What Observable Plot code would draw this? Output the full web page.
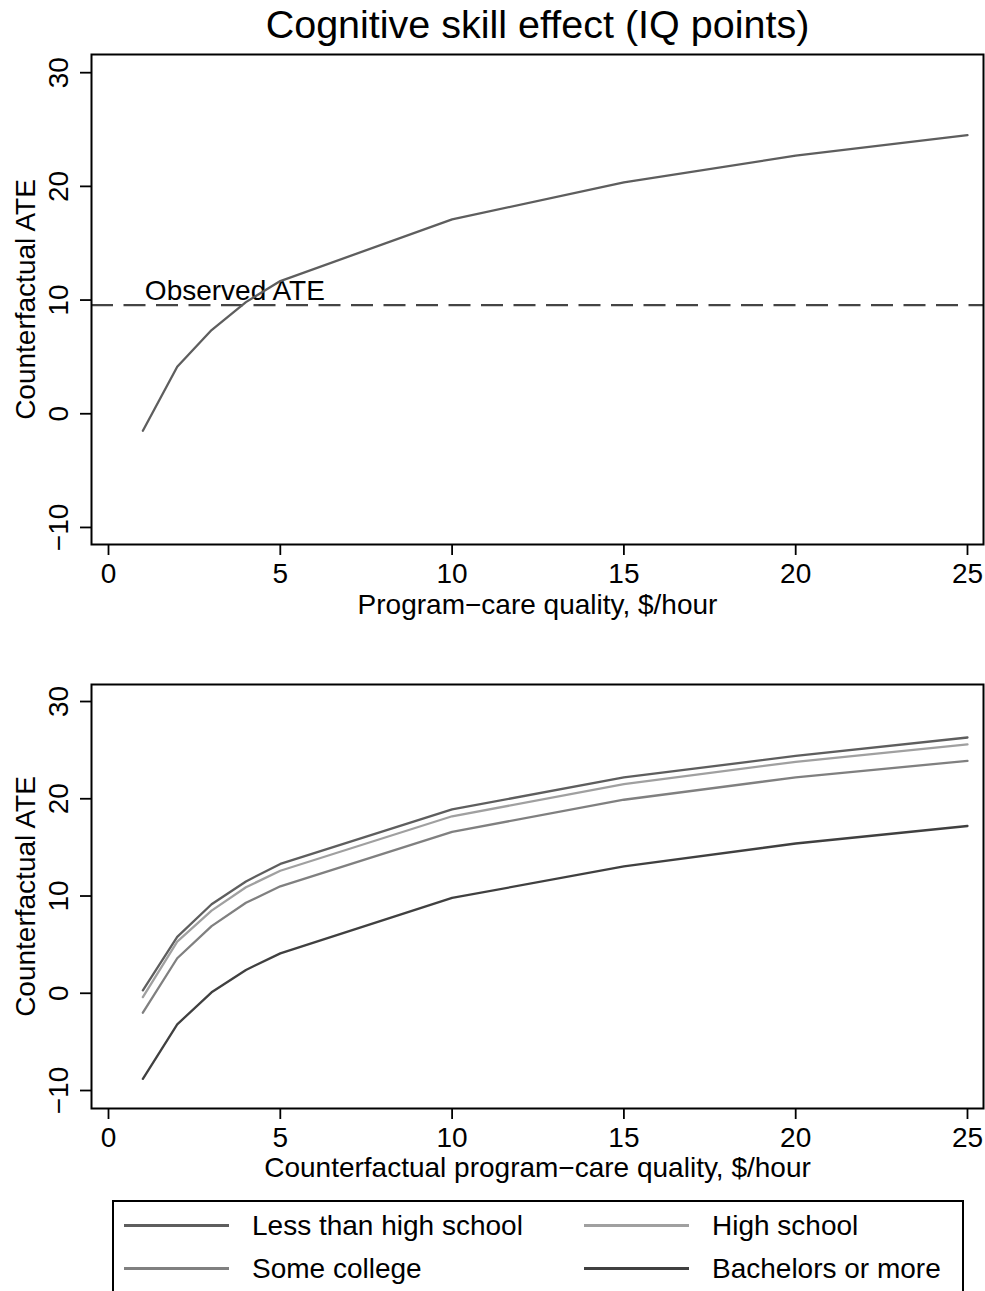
<!DOCTYPE html>
<html>
<head>
<meta charset="utf-8">
<script src="https://cdn.jsdelivr.net/npm/d3@7"></script>
<script src="https://cdn.jsdelivr.net/npm/@observablehq/plot@0.6"></script>
<style>
  html, body { margin: 0; padding: 0; background: #fff; }
  body { width: 985px; height: 1291px; overflow: hidden; position: relative;
         font-family: "Liberation Sans", Arial, Helvetica, sans-serif; color: #000; }
  #title { position: absolute; left: 0; top: 0; width: 985px; height: 48px; }
  #title span { position: absolute; left: 91px; width: 893px; top: 5px; text-align: center;
                font-size: 39.5px; line-height: 39.5px; white-space: nowrap; }
  #p1 { position: absolute; left: 0; top: 48px; }
  #p2 { position: absolute; left: 0; top: 640px; }
  #legend { position: absolute; left: 112px; top: 1200px; width: 852px; height: 200px;
            border: 2px solid #000; box-sizing: border-box; background: #fff; }
  #legend .ln { position: absolute; height: 3px; width: 105px; }
  #legend .tx { position: absolute; font-size: 28px; line-height: 28px; white-space: nowrap; }
</style>
</head>
<body>
<div id="title"><span></span></div>
<div id="p1"></div>
<div id="p2"></div>
<div id="legend"></div>
<script>
// ---------- data ----------
const chartTitle = "Cognitive skill effect (IQ points)";
const yLabel = "Counterfactual ATE";
const xLabelTop = "Program\u2212care quality, $/hour";
const xLabelBottom = "Counterfactual program\u2212care quality, $/hour";
const xTicks = [0, 5, 10, 15, 20, 25];
const yTicks = [-10, 0, 10, 20, 30];
const quality = [1, 2, 3, 4, 5, 10, 15, 20, 25];
const overallATE = [-1.49, 4.13, 7.36, 9.82, 11.67, 17.1, 20.35, 22.7, 24.5];
const observedATE = 9.56;
const observedLabel = "Observed ATE";
const groups = ["Less than high school", "High school", "Some college", "Bachelors or more"];
const groupColors = ["#5e5e5e", "#a0a0a0", "#808080", "#404040"];
const lessThanHS = [0.3, 5.8, 9.15, 11.5, 13.3, 18.9, 22.2, 24.4, 26.3];
const highSchool = [-0.4, 5.3, 8.5, 10.9, 12.6, 18.2, 21.5, 23.8, 25.6];
const someCollege = [-2.0, 3.6, 6.9, 9.3, 11.0, 16.6, 19.9, 22.2, 23.9];
const bachelors = [-8.8, -3.2, 0.1, 2.4, 4.1, 9.8, 13.05, 15.4, 17.2];
const topLineColor = "#5e5e5e";
const dashColor = "#444444";

// ---------- build tables ----------
const topData = quality.map((q, i) => ({q, v: overallATE[i]}));
const groupSeries = [lessThanHS, highSchool, someCollege, bachelors];
const bottomData = groups.flatMap((g, gi) => quality.map((q, i) => ({q, v: groupSeries[gi][i], g})));

const FONT = '"Liberation Sans", Arial, Helvetica, sans-serif';
const fmt = d => (d < 0 ? "\u2212" + Math.abs(d) : String(d));

function panel({height, marginTop, marginBottom, yDomain, marks, xlabel, xlabelDy}) {
  return Plot.plot({
    width: 985, height, marginTop, marginBottom, marginLeft: 91, marginRight: 2,
    x: {domain: [-0.495, 25.466]},
    y: {domain: yDomain},
    color: {domain: groups, range: groupColors},
    style: {fontFamily: FONT, fontSize: "28px", background: "white", color: "black", overflow: "visible"},
    marks: [
      Plot.axisX({ticks: xTicks, tickSize: 11, tickPadding: 8, tickFormat: fmt, fontSize: 28, strokeWidth: 1.8, label: null}),
      Plot.axisY({ticks: yTicks, tickSize: 11, tickPadding: 13, tickRotate: -90, tickFormat: fmt, fontSize: 28, strokeWidth: 1.8, label: null}),
      ...marks,
      Plot.frame({stroke: "black", strokeWidth: 2}),
      Plot.text([xlabel], {frameAnchor: "bottom", dy: xlabelDy, lineAnchor: "bottom", text: d => d, fontSize: 28}),
      Plot.text([yLabel], {frameAnchor: "left", dx: -65, rotate: -90, lineAnchor: "middle", textAnchor: "middle", text: d => d, fontSize: 28})
    ]
  });
}

document.querySelector("#title span").textContent = chartTitle;

const p1 = panel({
  height: 592, marginTop: 6, marginBottom: 96, yDomain: [-11.5, 31.6],
  xlabel: xLabelTop, xlabelDy: 69,
  marks: [
    Plot.ruleY([observedATE], {stroke: dashColor, strokeWidth: 2.2, strokeDasharray: "22,10.5"}),
    Plot.text([{x: quality[0], y: observedATE, t: observedLabel}], {x: "x", y: "y", text: "t", textAnchor: "start", lineAnchor: "bottom", dx: 2, dy: -5, fontSize: 28}),
    Plot.line(topData, {x: "q", y: "v", stroke: topLineColor, strokeWidth: 2.3})
  ]
});
document.getElementById("p1").appendChild(p1);

const p2 = panel({
  height: 550, marginTop: 44, marginBottom: 82, yDomain: [-11.85, 31.75],
  xlabel: xLabelBottom, xlabelDy: 68,
  marks: [
    Plot.line(bottomData, {x: "q", y: "v", z: "g", stroke: "g", strokeWidth: 2.3})
  ]
});
document.getElementById("p2").appendChild(p2);

// ---------- legend ----------
const legend = document.getElementById("legend");
const colX = [{line: 10, text: 138}, {line: 470, text: 598}];
const rows = [{line: 22, text: 10.3}, {line: 65, text: 53.3}];
groups.forEach((g, i) => {
  const c = colX[i % 2], r = rows[Math.floor(i / 2)];
  const ln = document.createElement("div");
  ln.className = "ln";
  ln.style.left = c.line + "px";
  ln.style.top = r.line + "px";
  ln.style.background = groupColors[i];
  legend.appendChild(ln);
  const tx = document.createElement("div");
  tx.className = "tx";
  tx.style.left = c.text + "px";
  tx.style.top = r.text + "px";
  tx.textContent = g;
  legend.appendChild(tx);
});
</script>
</body>
</html>
